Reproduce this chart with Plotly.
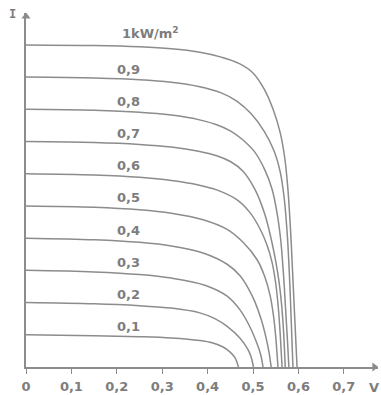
import plotly.graph_objects as go

# Irradiance levels (kW/m²) and their label texts
levels = [1.0, 0.9, 0.8, 0.7, 0.6, 0.5, 0.4, 0.3, 0.2, 0.1]
level_labels = ["1kW/m<sup>2</sup>", "0,9", "0,8", "0,7", "0,6", "0,5", "0,4", "0,3", "0,2", "0,1"]

# I-V curves: voltage (V) and relative current
v_10 = [0, 0.15, 0.25, 0.32, 0.38, 0.43, 0.47, 0.50, 0.525, 0.545, 0.56, 0.57, 0.577, 0.584, 0.590, 0.597]
i_10 = [1.000, 0.998, 0.994, 0.988, 0.978, 0.962, 0.942, 0.913, 0.862, 0.797, 0.727, 0.648, 0.55, 0.39, 0.21, 0]

v_09 = [0, 0.15, 0.25, 0.32, 0.38, 0.43, 0.465, 0.496, 0.524, 0.546, 0.560, 0.569, 0.576, 0.581, 0.584, 0.588]
i_09 = [0.900, 0.897, 0.892, 0.884, 0.871, 0.851, 0.825, 0.786, 0.733, 0.672, 0.605, 0.52, 0.40, 0.26, 0.15, 0]

v_08 = [0, 0.15, 0.25, 0.32, 0.38, 0.42, 0.45, 0.476, 0.504, 0.526, 0.542, 0.553, 0.561, 0.567, 0.572, 0.576, 0.579]
i_08 = [0.800, 0.797, 0.791, 0.782, 0.768, 0.752, 0.733, 0.707, 0.667, 0.612, 0.552, 0.478, 0.395, 0.29, 0.175, 0.08, 0]

v_07 = [0, 0.15, 0.25, 0.32, 0.38, 0.42, 0.45, 0.478, 0.504, 0.526, 0.542, 0.553, 0.560, 0.566, 0.571]
i_07 = [0.700, 0.697, 0.691, 0.683, 0.670, 0.656, 0.638, 0.608, 0.552, 0.474, 0.385, 0.305, 0.235, 0.14, 0]

v_06 = [0, 0.15, 0.25, 0.32, 0.38, 0.42, 0.465, 0.493, 0.515, 0.531, 0.542, 0.550, 0.556, 0.560, 0.564]
i_06 = [0.600, 0.596, 0.589, 0.579, 0.565, 0.550, 0.519, 0.480, 0.43, 0.378, 0.325, 0.26, 0.18, 0.10, 0]

v_05 = [0, 0.15, 0.25, 0.32, 0.39, 0.443, 0.478, 0.509, 0.526, 0.538, 0.545, 0.550, 0.553, 0.555]
i_05 = [0.500, 0.496, 0.488, 0.477, 0.457, 0.427, 0.387, 0.333, 0.280, 0.220, 0.160, 0.095, 0.04, 0]

v_04 = [0, 0.15, 0.25, 0.32, 0.39, 0.443, 0.471, 0.489, 0.504, 0.518, 0.528, 0.535, 0.540]
i_04 = [0.400, 0.395, 0.387, 0.376, 0.354, 0.319, 0.284, 0.246, 0.203, 0.148, 0.095, 0.048, 0]

v_03 = [0, 0.15, 0.25, 0.32, 0.394, 0.443, 0.471, 0.493, 0.509, 0.517, 0.522]
i_03 = [0.300, 0.295, 0.287, 0.276, 0.254, 0.220, 0.178, 0.125, 0.072, 0.038, 0]

v_02 = [0, 0.15, 0.25, 0.32, 0.383, 0.416, 0.443, 0.471, 0.489, 0.496, 0.501]
i_02 = [0.200, 0.196, 0.190, 0.183, 0.168, 0.150, 0.126, 0.090, 0.054, 0.030, 0]

v_01 = [0, 0.15, 0.25, 0.32, 0.383, 0.410, 0.434, 0.449, 0.460, 0.468]
i_01 = [0.100, 0.097, 0.094, 0.090, 0.082, 0.075, 0.062, 0.047, 0.030, 0]

curves = [(v_10, i_10), (v_09, i_09), (v_08, i_08), (v_07, i_07), (v_06, i_06),
          (v_05, i_05), (v_04, i_04), (v_03, i_03), (v_02, i_02), (v_01, i_01)]

# X axis ticks
x_tickvals = [0, 0.1, 0.2, 0.3, 0.4, 0.5, 0.6, 0.7]
x_ticktext = ["0", "0,1", "0,2", "0,3", "0,4", "0,5", "0,6", "0,7"]

X_MAX = 0.7753
Y_MAX = 1.099
LINE = "#8c8c8c"
TXT = "#7d7d7d"
FONT = dict(family="DejaVu Sans", size=13, color=TXT, weight="bold")

fig = go.Figure()
for v, i in curves:
    fig.add_trace(go.Scatter(x=v, y=i, mode="lines",
                             line=dict(color=LINE, width=1.5, shape="spline", smoothing=1.0),
                             hoverinfo="skip", showlegend=False))

# axis arrowheads
fig.add_trace(go.Scatter(x=[X_MAX - 0.008], y=[0], mode="markers",
                         marker=dict(symbol="triangle-right", size=8, color=LINE),
                         cliponaxis=False, hoverinfo="skip", showlegend=False))
fig.add_trace(go.Scatter(x=[0], y=[Y_MAX - 0.011], mode="markers",
                         marker=dict(symbol="triangle-up", size=8, color=LINE),
                         cliponaxis=False, hoverinfo="skip", showlegend=False))

annotations = []
for g, txt in zip(levels, level_labels):
    if g == 1.0:
        annotations.append(dict(x=0.207, y=g, xref="x", yref="y", text=txt, showarrow=False,
                                xanchor="left", yanchor="middle", yshift=12, font=FONT))
    else:
        annotations.append(dict(x=0.225, y=g, xref="x", yref="y", text=txt, showarrow=False,
                                xanchor="center", yanchor="middle", yshift=8, font=FONT))

# axis names
annotations.append(dict(x=-0.037, y=0.997, xref="paper", yref="paper", text="I", showarrow=False,
                        xanchor="center", yanchor="middle",
                        font=dict(family="DejaVu Sans Mono", size=12, color=TXT, weight="bold")))
annotations.append(dict(x=1.0085, y=-0.0565, xref="paper", yref="paper", text="V", showarrow=False,
                        xanchor="right", yanchor="middle", font=FONT))

fig.update_layout(
    width=381, height=395,
    margin=dict(l=26, r=3, t=13, b=28, autoexpand=False),
    paper_bgcolor="white", plot_bgcolor="white",
    annotations=annotations,
    xaxis=dict(range=[0, X_MAX], showgrid=False, zeroline=False, showline=True, automargin=False,
               linecolor=LINE, linewidth=1.5, tickvals=x_tickvals, ticktext=x_ticktext,
               ticks="outside", ticklen=5, tickwidth=1, tickcolor=LINE,
               ticklabelstandoff=2, tickfont=FONT),
    yaxis=dict(range=[0, Y_MAX], showgrid=False, zeroline=False, showline=True, automargin=False,
               linecolor=LINE, linewidth=1.5, showticklabels=False, ticks=""),
)

fig.write_html("out.html")
